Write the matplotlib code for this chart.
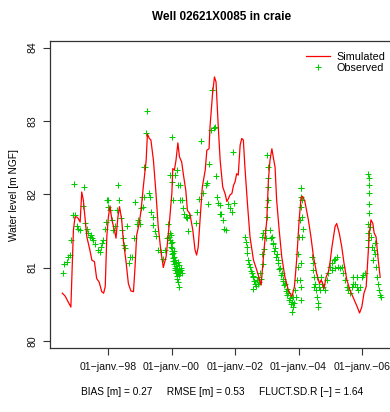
import datetime as dt

import matplotlib
matplotlib.use("Agg")
import matplotlib.pyplot as plt
import matplotlib.dates as mdates
from matplotlib.ticker import FuncFormatter

plt.rcParams["font.family"] = ["Liberation Sans", "DejaVu Sans"]

# ---------------------------------------------------------------
# Data (decimal years, water level in m NGF)
# ---------------------------------------------------------------
sim_years = [
    1996.56, 1996.65, 1996.83, 1996.91, 1996.96, 1997.01, 1997.06, 1997.12, 1997.17, 1997.22,
    1997.28, 1997.33, 1997.43, 1997.49, 1997.57, 1997.64, 1997.72, 1997.80, 1997.86, 1997.91,
    1997.96, 1998.01, 1998.06, 1998.12, 1998.20, 1998.25, 1998.31, 1998.36, 1998.43, 1998.48,
    1998.56, 1998.64, 1998.72, 1998.80, 1998.85, 1998.90, 1998.98, 1999.04, 1999.11, 1999.20,
    1999.24, 1999.30, 1999.35, 1999.43, 1999.51, 1999.58, 1999.66, 1999.74, 1999.83, 1999.93,
    2000.01, 2000.04, 2000.09, 2000.14, 2000.20, 2000.25, 2000.32, 2000.37, 2000.45, 2000.50,
    2000.58, 2000.67, 2000.74, 2000.79, 2000.84, 2000.90, 2000.97, 2001.06, 2001.11, 2001.18,
    2001.21, 2001.29, 2001.35, 2001.40, 2001.47, 2001.53, 2001.61, 2001.69, 2001.74, 2001.79,
    2001.84, 2001.90, 2001.95, 2002.00, 2002.05, 2002.10, 2002.16, 2002.21, 2002.26, 2002.31,
    2002.39, 2002.47, 2002.58, 2002.68, 2002.82, 2002.86, 2002.92, 2003.00, 2003.05, 2003.10,
    2003.16, 2003.21, 2003.26, 2003.31, 2003.39, 2003.47, 2003.57, 2003.68, 2003.79, 2003.87,
    2003.94, 2004.02, 2004.08, 2004.13, 2004.20, 2004.31, 2004.39, 2004.47, 2004.57, 2004.66,
    2004.71, 2004.76, 2004.80, 2004.87, 2004.94, 2004.99, 2005.05, 2005.10, 2005.15, 2005.20,
    2005.28, 2005.36, 2005.43, 2005.52, 2005.62, 2005.71, 2005.78, 2005.85, 2005.92, 2005.99,
    2006.06, 2006.13, 2006.18, 2006.23, 2006.28, 2006.34, 2006.38, 2006.44, 2006.51, 2006.57,
]
sim_level = [
    80.65, 80.61, 80.46, 81.51, 81.69, 81.69, 81.67, 81.62, 82.03, 81.92,
    81.65, 81.42, 81.23, 81.10, 81.08, 80.85, 80.80, 80.67, 80.65, 80.74,
    81.42, 81.69, 81.84, 81.65, 81.51, 81.40, 81.69, 81.83, 81.65, 81.37,
    81.10, 80.78, 80.68, 80.67, 81.01, 81.44, 81.60, 81.78, 82.10, 82.46,
    82.82, 82.76, 82.74, 82.46, 82.01, 81.56, 81.24, 81.00, 81.15, 81.60,
    82.01, 82.35, 82.33, 82.46, 82.70, 82.51, 82.44, 82.28, 82.05, 81.78,
    81.73, 81.51, 81.24, 81.17, 81.28, 81.65, 82.10, 82.33, 82.60, 82.62,
    82.92, 83.37, 83.60, 83.53, 82.92, 82.46, 82.10, 82.00, 81.90, 81.94,
    81.99, 82.01, 82.12, 82.17, 82.28, 82.26, 82.67, 82.76, 82.74, 82.37,
    81.87, 81.42, 81.10, 80.97, 80.76, 80.97, 81.28, 81.65, 82.19, 82.46,
    82.62, 82.49, 82.37, 81.92, 81.51, 81.15, 80.87, 80.69, 80.60, 80.74,
    81.10, 81.65, 81.96, 81.97, 81.90, 81.65, 81.42, 81.15, 80.92, 80.78,
    80.83, 80.78, 80.71, 80.87, 80.94, 81.06, 81.28, 81.42, 81.56, 81.60,
    81.47, 81.28, 81.06, 80.83, 80.69, 80.60, 80.53, 80.46, 80.38, 80.46,
    80.65, 80.74, 81.10, 81.47, 81.65, 81.60, 81.47, 81.42, 81.10, 80.87,
]

obs_years = [
    # 1996 - 1999 (sparse)
    1996.59, 1996.62, 1996.70, 1996.75, 1996.80, 1996.83, 1996.91, 1996.96, 1996.94, 1997.01,
    1997.06, 1997.12, 1997.24, 1997.22, 1997.28, 1997.33, 1997.38, 1997.43, 1997.46, 1997.49,
    1997.54, 1997.59, 1997.68, 1997.73, 1997.77, 1997.80, 1997.85, 1997.91, 1997.93, 1997.96,
    1998.01, 1998.01, 1998.06, 1998.12, 1998.17, 1998.22, 1998.27, 1998.31, 1998.35, 1998.40,
    1998.43, 1998.48, 1998.51, 1998.54, 1998.59, 1998.66, 1998.69, 1998.75, 1998.83, 1998.85,
    1998.90, 1998.95, 1999.01, 1999.04, 1999.08, 1999.14,
    # 1999 - 2001
    1999.09, 1999.13, 1999.17, 1999.20, 1999.24, 1999.29, 1999.32, 1999.35, 1999.41, 1999.43,
    1999.48, 1999.51, 1999.58, 1999.66, 1999.72, 1999.80, 1999.85, 1999.90, 1999.95, 2000.01,
    2000.03, 2000.06, 2000.11, 2000.16, 2000.21, 2000.27, 2000.27, 2000.33, 2000.35, 2000.39,
    2000.45, 2000.48, 2000.56, 2000.51, 2000.77, 2000.81, 2000.88, 2000.93, 2001.00, 2001.09,
    2001.13, 2001.16, 2001.19, 2001.23, 2001.27, 2001.32, 2001.37, 2001.39, 2001.44, 2001.47,
    2001.53, 2001.51, 2001.56, 2001.61, 2001.66, 2001.71, 2001.79, 2001.84, 2001.90, 2001.92,
    2001.95,
    # dense cluster early 2000
    1999.93, 1999.95, 1999.96, 1999.97, 1999.98, 1999.99, 2000.00, 2000.01, 2000.02, 2000.03,
    2000.04, 2000.05, 2000.06, 2000.07, 2000.08, 2000.09, 2000.10, 2000.11, 2000.12, 2000.13,
    2000.14, 2000.15, 2000.16, 2000.17, 2000.18, 2000.19, 2000.20, 2000.21, 2000.22, 2000.23,
    2000.24, 2000.25, 2000.27, 2000.29, 2000.31, 2000.33,
    # dense record 2002 - 2004
    2002.31, 2002.37, 2002.42, 2002.47, 2002.53, 2002.58, 2002.63, 2002.58, 2002.68, 2002.73,
    2002.79, 2002.84, 2002.86, 2002.89, 2002.94, 2003.00, 2003.00, 2003.03, 2003.05, 2003.03,
    2003.05, 2003.02,
    2002.33, 2002.39, 2002.45, 2002.50, 2002.55, 2002.61, 2002.66, 2002.71, 2002.76, 2002.81,
    2002.87, 2002.92, 2002.97,
    2003.10, 2003.16, 2003.21, 2003.26, 2003.31, 2003.36, 2003.42, 2003.47, 2003.52, 2003.57,
    2003.63, 2003.68, 2003.73, 2003.78, 2003.78, 2003.84, 2003.89, 2003.94, 2003.97, 2003.99,
    2004.02, 2004.05, 2004.07, 2004.08, 2004.08,
    2003.13, 2003.18, 2003.24, 2003.29, 2003.34, 2003.39, 2003.45, 2003.50, 2003.55, 2003.60,
    2003.65, 2003.70, 2003.76, 2003.81, 2003.86, 2003.92,
    # 2004 - 2006
    2004.08, 2004.10, 2004.10, 2004.13, 2004.10, 2004.08, 2004.05, 2004.07, 2004.08,
    2004.42, 2004.45, 2004.47, 2004.49, 2004.52, 2004.55, 2004.57, 2004.60, 2004.62, 2004.66,
    2004.70, 2004.73, 2004.78, 2004.83, 2004.49, 2004.57, 2004.68,
    2004.89, 2004.94, 2004.99, 2005.05, 2005.10, 2005.15, 2005.20, 2005.05, 2005.15,
    2005.25, 2005.30, 2005.36, 2005.41, 2005.46, 2005.52, 2005.57, 2005.62,
    2005.67, 2005.72, 2005.78, 2005.83, 2005.88, 2005.94, 2005.99, 2006.04, 2006.09, 2005.72,
    2005.83,
    2006.20, 2006.22, 2006.22, 2006.22, 2006.23, 2006.23, 2006.20, 2006.20, 2006.18, 2006.18,
    2006.25, 2006.27,
    2006.30, 2006.36, 2006.41, 2006.44, 2006.48, 2006.51, 2006.54, 2006.57, 2006.59, 2006.33,
    2006.41,
]
obs_level = [
    # 1996 - 1999 (sparse)
    80.92, 81.05, 81.08, 81.15, 81.17, 81.37, 81.72, 81.72, 82.14, 81.56,
    81.53, 81.51, 82.10, 81.84, 81.61, 81.53, 81.47, 81.42, 81.44, 81.40,
    81.37, 81.32, 81.24, 81.21, 81.28, 81.33, 81.37, 81.53, 81.62, 81.92,
    81.92, 81.82, 81.78, 81.65, 81.51, 81.57, 81.78, 82.12, 81.92, 81.67,
    81.51, 81.40, 81.31, 81.26, 81.56, 81.06, 81.15, 81.15, 81.40, 81.90,
    81.60, 81.65, 81.59, 81.81, 81.96, 82.37,
    # 1999 - 2001
    81.83, 81.96, 82.37, 82.83, 83.13, 82.02, 81.96, 81.76, 81.69, 81.58,
    81.50, 81.43, 81.24, 81.21, 81.11, 81.24, 81.40, 81.60, 82.26, 82.78,
    82.17, 81.92, 82.26, 82.33, 82.12, 82.12, 81.92, 81.92, 81.81, 81.73,
    81.69, 81.67, 81.72, 81.50, 81.61, 81.76, 81.93, 82.72, 82.01, 82.12,
    82.15, 81.87, 82.41, 82.88, 83.42, 82.90, 82.92, 82.25, 81.96, 81.88,
    81.85, 81.73, 81.73, 81.65, 81.53, 81.51, 81.87, 81.81, 81.76, 82.57,
    81.88,
    # dense cluster early 2000
    81.42, 81.47, 81.38, 81.33, 81.28, 81.44, 81.22, 81.35, 81.18, 81.26,
    81.13, 81.20, 81.09, 81.15, 81.05, 81.22, 81.00, 81.10, 80.96, 81.06,
    80.92, 81.02, 80.88, 80.98, 80.84, 81.08, 80.80, 80.94, 80.74, 81.04,
    80.90, 80.98, 80.93, 81.00, 80.96, 80.92,
    # dense record 2002 - 2004
    81.42, 81.28, 81.10, 81.01, 80.92, 80.87, 80.78, 80.71, 80.83, 80.87,
    80.92, 81.19, 81.42, 81.47, 81.51, 81.69, 81.83, 81.92, 82.10, 82.22,
    82.37, 82.53,
    81.35, 81.20, 81.05, 80.95, 80.88, 80.82, 80.75, 80.78, 80.80, 80.85,
    81.05, 81.25, 81.40,
    81.51, 81.42, 81.33, 81.26, 81.19, 81.10, 80.99, 80.92, 80.85, 80.78,
    80.71, 80.65, 80.58, 80.53, 80.39, 80.60, 80.69, 80.83, 81.01, 81.19,
    81.42, 81.65, 81.83, 81.96, 82.08,
    81.40, 81.32, 81.22, 81.15, 81.06, 80.98, 80.90, 80.82, 80.76, 80.68,
    80.62, 80.55, 80.50, 80.46, 80.52, 80.60,
    # 2004 - 2006
    82.08, 81.92, 81.69, 81.53, 81.42, 81.06, 80.83, 80.74, 80.55,
    81.15, 81.06, 80.96, 80.87, 80.78, 80.69, 80.60, 80.51, 80.46, 80.74,
    80.87, 80.78, 80.74, 80.69, 80.74, 80.87, 80.69,
    80.83, 80.92, 81.01, 81.06, 81.10, 81.12, 81.15, 80.96, 80.99,
    81.01, 80.99, 81.01, 80.92, 80.83, 80.74, 80.69, 80.65,
    80.74, 80.78, 80.78, 80.74, 80.69, 80.74, 80.87, 80.90, 80.92, 80.87,
    80.87,
    82.28, 82.22, 82.12, 82.01, 81.87, 81.74, 81.60, 81.47, 81.37, 81.28,
    81.55, 81.42,
    81.28, 81.24, 81.19, 81.01, 80.87, 80.78, 80.69, 80.62, 80.60, 81.10,
    81.33,
]

title = "Well 02621X0085 in craie"
ylabel = "Water level [m NGF]"
stats_text = "BIAS [m] = 0.27     RMSE [m] = 0.53     FLUCT.SD.R [\u2212] = 1.64"
tick_years = [1998, 2000, 2002, 2004, 2006]


def to_date(year):
    y = int(year)
    start = dt.datetime(y, 1, 1)
    return start + dt.timedelta(days=(year - y) * 365.25)


sim_dates = [to_date(y) for y in sim_years]
obs_dates = [to_date(y) for y in obs_years]

# ---------------------------------------------------------------
# Figure
# ---------------------------------------------------------------
fig = plt.figure(figsize=(3.9, 4.12), dpi=100)
ax = fig.add_axes([0.128, 0.155, 0.885, 0.7455])

ax.plot(sim_dates, sim_level, color="#ff0000", lw=0.9, label="Simulated", zorder=3)
ax.plot(obs_dates, obs_level, ls="none", marker="+", ms=4.5, mew=0.75,
        color="#00cd00", label="Observed", zorder=2)

ax.set_xlim(to_date(1996.17), to_date(2007.04))
ax.set_ylim(79.9, 84.09)

ax.set_xticks([dt.datetime(y, 1, 1) for y in tick_years])
ax.xaxis.set_major_formatter(
    FuncFormatter(lambda v, pos: "01\u2212janv.\u2212" + mdates.num2date(v).strftime("%y"))
)
ax.set_yticks([80, 81, 82, 83, 84])

ax.tick_params(axis="both", labelsize=7.6, length=5, width=0.8, color="#333333",
               labelcolor="#111111")
ax.tick_params(axis="x", pad=5)
ax.tick_params(axis="y", pad=4)
for lab in ax.get_yticklabels():
    lab.set_rotation(90)
    lab.set_va("center")

for s in ax.spines.values():
    s.set_linewidth(0.9)
    s.set_color("#333333")

ax.set_ylabel(ylabel, fontsize=7.3, labelpad=6)
fig.text(0.569, 0.958, title, ha="center", va="center", fontsize=8.5, fontweight="bold")
fig.text(0.569, 0.049, stats_text, ha="center", va="center", fontsize=7.3)

ax.legend(loc="upper right", bbox_to_anchor=(1.0, 0.885), bbox_transform=fig.transFigure,
          frameon=False, fontsize=7.8, handlelength=2.2, handletextpad=0.6,
          labelspacing=0.1, borderaxespad=0)

fig.savefig("out.png", dpi=100)
